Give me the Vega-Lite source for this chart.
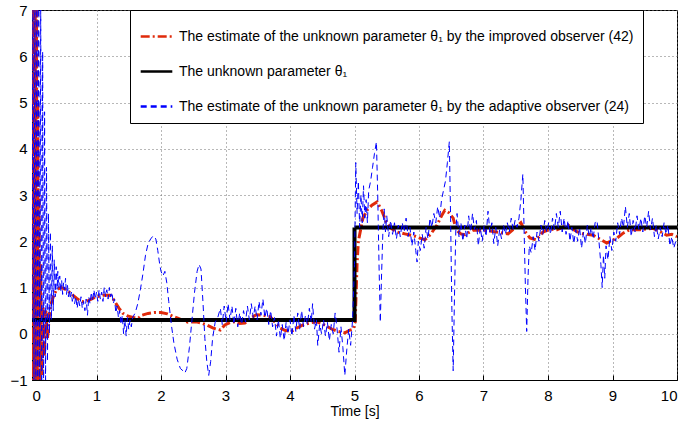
{
  "$schema": "https://vega.github.io/schema/vega-lite/v6.json",
  "width": 645,
  "height": 370,
  "autosize": {"type": "none"},
  "padding": {"left": 32, "top": 10, "right": 8, "bottom": 52},
  "background": "white",
  "config": {
    "font": "Liberation Sans",
    "view": {"stroke": "black", "strokeWidth": 1},
    "axis": {
      "domainColor": "black",
      "tickColor": "black",
      "labelColor": "black",
      "titleColor": "black",
      "labelFont": "Liberation Sans",
      "titleFont": "Liberation Sans",
      "gridColor": "#707070",
      "gridDash": [1, 3],
      "gridOpacity": 1,
      "tickSize": -5,
      "labelFontSize": 15
    }
  },
  "datasets": {
    "black": [
      {"t": 0, "v": 0.3},
      {"t": 5, "v": 2.3},
      {"t": 10, "v": 2.3}
    ],
    "red": [
      {"t": 0.000, "v": 0.3}, {"t": 0.010, "v": 7.5}, {"t": 0.020, "v": -1.5}, {"t": 0.030, "v": 7.5},
      {"t": 0.040, "v": -1.5}, {"t": 0.050, "v": 7.5}, {"t": 0.060, "v": -1.5}, {"t": 0.070, "v": 7.0},
      {"t": 0.080, "v": -1.5}, {"t": 0.090, "v": 5.0},
      {"t": 0.100, "v": -1.3}, {"t": 0.110, "v": 3.0}, {"t": 0.120, "v": -1.1}, {"t": 0.135, "v": 1.5},
      {"t": 0.150, "v": -0.9}, {"t": 0.170, "v": 0.6}, {"t": 0.190, "v": -0.5}, {"t": 0.215, "v": 0.5},
      {"t": 0.240, "v": -0.1}, {"t": 0.28, "v": 0.58}, {"t": 0.33, "v": 0.8}, {"t": 0.38, "v": 0.95},
      {"t": 0.45, "v": 1.0}, {"t": 0.54, "v": 0.95}, {"t": 0.62, "v": 0.85}, {"t": 0.69, "v": 0.77},
      {"t": 0.76, "v": 0.7}, {"t": 0.83, "v": 0.69}, {"t": 0.92, "v": 0.75}, {"t": 1.00, "v": 0.8},
      {"t": 1.10, "v": 0.83}, {"t": 1.21, "v": 0.83}, {"t": 1.26, "v": 0.75}, {"t": 1.30, "v": 0.66},
      {"t": 1.35, "v": 0.55}, {"t": 1.41, "v": 0.44}, {"t": 1.47, "v": 0.39}, {"t": 1.52, "v": 0.37},
      {"t": 1.60, "v": 0.34}, {"t": 1.65, "v": 0.34}, {"t": 1.70, "v": 0.40}, {"t": 1.80, "v": 0.44},
      {"t": 1.90, "v": 0.46}, {"t": 2.00, "v": 0.46}, {"t": 2.10, "v": 0.43}, {"t": 2.18, "v": 0.38},
      {"t": 2.26, "v": 0.34}, {"t": 2.34, "v": 0.29}, {"t": 2.42, "v": 0.25}, {"t": 2.55, "v": 0.26},
      {"t": 2.63, "v": 0.23}, {"t": 2.71, "v": 0.19}, {"t": 2.81, "v": 0.12}, {"t": 2.92, "v": 0.08},
      {"t": 2.99, "v": 0.19}, {"t": 3.07, "v": 0.24}, {"t": 3.15, "v": 0.26}, {"t": 3.22, "v": 0.22},
      {"t": 3.30, "v": 0.23}, {"t": 3.40, "v": 0.35}, {"t": 3.48, "v": 0.41}, {"t": 3.58, "v": 0.40},
      {"t": 3.69, "v": 0.37}, {"t": 3.77, "v": 0.25}, {"t": 3.84, "v": 0.13}, {"t": 3.93, "v": 0.07},
      {"t": 4.02, "v": 0.05}, {"t": 4.10, "v": 0.12}, {"t": 4.20, "v": 0.19}, {"t": 4.30, "v": 0.23},
      {"t": 4.41, "v": 0.26}, {"t": 4.52, "v": 0.2}, {"t": 4.65, "v": 0.1}, {"t": 4.75, "v": 0.05},
      {"t": 4.85, "v": 0.02}, {"t": 4.93, "v": 0.08}, {"t": 4.98, "v": 0.1}, {"t": 5.01, "v": 0.23},
      {"t": 5.04, "v": 1.52}, {"t": 5.06, "v": 2.0}, {"t": 5.13, "v": 2.5}, {"t": 5.20, "v": 2.68},
      {"t": 5.27, "v": 2.78}, {"t": 5.35, "v": 2.85}, {"t": 5.42, "v": 2.67}, {"t": 5.50, "v": 2.39},
      {"t": 5.58, "v": 2.27}, {"t": 5.66, "v": 2.2}, {"t": 5.78, "v": 2.16}, {"t": 5.94, "v": 2.11},
      {"t": 6.09, "v": 2.03}, {"t": 6.18, "v": 2.15}, {"t": 6.28, "v": 2.35}, {"t": 6.35, "v": 2.55},
      {"t": 6.40, "v": 2.67}, {"t": 6.46, "v": 2.62}, {"t": 6.53, "v": 2.5}, {"t": 6.58, "v": 2.24},
      {"t": 6.65, "v": 2.16}, {"t": 6.71, "v": 2.14}, {"t": 6.84, "v": 2.24}, {"t": 7.00, "v": 2.24},
      {"t": 7.10, "v": 2.22}, {"t": 7.20, "v": 2.2}, {"t": 7.38, "v": 2.16}, {"t": 7.51, "v": 2.31},
      {"t": 7.58, "v": 2.4}, {"t": 7.65, "v": 2.2}, {"t": 7.72, "v": 2.07}, {"t": 7.82, "v": 2.03},
      {"t": 7.92, "v": 2.2}, {"t": 8.03, "v": 2.26}, {"t": 8.14, "v": 2.25}, {"t": 8.31, "v": 2.35},
      {"t": 8.40, "v": 2.25}, {"t": 8.50, "v": 2.17}, {"t": 8.70, "v": 2.13}, {"t": 8.80, "v": 2.05},
      {"t": 8.91, "v": 1.96}, {"t": 9.07, "v": 2.07}, {"t": 9.17, "v": 2.18}, {"t": 9.27, "v": 2.25},
      {"t": 9.43, "v": 2.25}, {"t": 9.63, "v": 2.28}, {"t": 9.75, "v": 2.2}, {"t": 9.84, "v": 2.13},
      {"t": 9.92, "v": 2.15}, {"t": 10.0, "v": 2.1}
    ],
    "blue": [
      {"t": 0.000, "v": 0.3}, {"t": 0.015, "v": 8}, {"t": 0.030, "v": -1.5}, {"t": 0.045, "v": 8},
      {"t": 0.060, "v": -1.5}, {"t": 0.075, "v": 8}, {"t": 0.090, "v": -1.5}, {"t": 0.105, "v": 8},
      {"t": 0.120, "v": -1.5}, {"t": 0.135, "v": 7}, {"t": 0.150, "v": -1.5}, {"t": 0.165, "v": 6.1},
      {"t": 0.180, "v": -1.3}, {"t": 0.195, "v": 4.8},
      {"t": 0.210, "v": -1.1}, {"t": 0.225, "v": 3.6}, {"t": 0.240, "v": -0.6},
      {"t": 0.255, "v": 2.6}, {"t": 0.270, "v": 0.0}, {"t": 0.285, "v": 2.2},
      {"t": 0.300, "v": 0.3}, {"t": 0.315, "v": 1.9}, {"t": 0.330, "v": 0.5}, {"t": 0.345, "v": 1.6},
      {"t": 0.360, "v": 0.8}, {"t": 0.375, "v": 1.45},
      {"t": 0.39, "v": 0.95}, {"t": 0.40, "v": 1.35}, {"t": 0.415, "v": 1.0}, {"t": 0.43, "v": 1.25},
      {"t": 0.445, "v": 0.9}, {"t": 0.46, "v": 1.15}, {"t": 0.475, "v": 0.85}, {"t": 0.49, "v": 1.1},
      {"t": 0.505, "v": 0.95}, {"t": 0.52, "v": 1.2}, {"t": 0.535, "v": 0.85}, {"t": 0.55, "v": 1.05},
      {"t": 0.565, "v": 0.8}, {"t": 0.58, "v": 0.95}, {"t": 0.595, "v": 0.75}, {"t": 0.61, "v": 0.9},
      {"t": 0.625, "v": 0.7}, {"t": 0.64, "v": 0.85}, {"t": 0.66, "v": 0.65}, {"t": 0.68, "v": 0.8},
      {"t": 0.70, "v": 0.55}, {"t": 0.72, "v": 0.75}, {"t": 0.74, "v": 0.6}, {"t": 0.76, "v": 0.8},
      {"t": 0.78, "v": 0.55}, {"t": 0.80, "v": 0.7}, {"t": 0.82, "v": 0.5}, {"t": 0.84, "v": 0.75},
      {"t": 0.86, "v": 0.4}, {"t": 0.88, "v": 0.8}, {"t": 0.90, "v": 0.65}, {"t": 0.92, "v": 0.9},
      {"t": 0.94, "v": 0.7}, {"t": 0.96, "v": 0.95}, {"t": 0.98, "v": 0.75}, {"t": 1.00, "v": 0.9},
      {"t": 1.02, "v": 0.7}, {"t": 1.04, "v": 0.95}, {"t": 1.06, "v": 0.75}, {"t": 1.08, "v": 0.9},
      {"t": 1.10, "v": 0.7}, {"t": 1.12, "v": 1.0}, {"t": 1.14, "v": 0.8}, {"t": 1.16, "v": 0.95},
      {"t": 1.18, "v": 0.75}, {"t": 1.20, "v": 1.0}, {"t": 1.22, "v": 0.8}, {"t": 1.24, "v": 0.9},
      {"t": 1.26, "v": 0.65}, {"t": 1.28, "v": 0.75}, {"t": 1.30, "v": 0.45}, {"t": 1.32, "v": 0.6},
      {"t": 1.34, "v": 0.35}, {"t": 1.36, "v": 0.5}, {"t": 1.38, "v": 0.2}, {"t": 1.40, "v": 0.4},
      {"t": 1.42, "v": 0.0}, {"t": 1.44, "v": 0.3}, {"t": 1.46, "v": -0.05}, {"t": 1.48, "v": 0.35},
      {"t": 1.50, "v": 0.1}, {"t": 1.52, "v": 0.3}, {"t": 1.54, "v": 0.15}, {"t": 1.56, "v": 0.35},
      {"t": 1.60, "v": 0.45}, {"t": 1.64, "v": 0.65}, {"t": 1.68, "v": 0.95}, {"t": 1.72, "v": 1.3},
      {"t": 1.76, "v": 1.7}, {"t": 1.80, "v": 1.95}, {"t": 1.84, "v": 2.05}, {"t": 1.88, "v": 2.12},
      {"t": 1.92, "v": 2.05}, {"t": 1.95, "v": 1.8}, {"t": 1.98, "v": 1.5}, {"t": 2.00, "v": 1.35},
      {"t": 2.03, "v": 1.25}, {"t": 2.06, "v": 1.35}, {"t": 2.09, "v": 1.1}, {"t": 2.12, "v": 0.7},
      {"t": 2.16, "v": 0.2}, {"t": 2.20, "v": -0.2}, {"t": 2.25, "v": -0.55}, {"t": 2.30, "v": -0.75},
      {"t": 2.34, "v": -0.8}, {"t": 2.37, "v": -0.85}, {"t": 2.40, "v": -0.75}, {"t": 2.44, "v": -0.3},
      {"t": 2.48, "v": 0.3}, {"t": 2.52, "v": 0.9}, {"t": 2.56, "v": 1.35}, {"t": 2.59, "v": 1.5},
      {"t": 2.62, "v": 1.4}, {"t": 2.65, "v": 0.7}, {"t": 2.68, "v": -0.1}, {"t": 2.71, "v": -0.6},
      {"t": 2.74, "v": -0.9}, {"t": 2.77, "v": -0.6}, {"t": 2.80, "v": -0.1}, {"t": 2.84, "v": 0.25},
      {"t": 2.88, "v": 0.35},
      {"t": 2.92, "v": 0.55}, {"t": 2.95, "v": 0.2}, {"t": 2.98, "v": 0.6}, {"t": 3.01, "v": 0.25},
      {"t": 3.04, "v": 0.65}, {"t": 3.07, "v": 0.3}, {"t": 3.10, "v": 0.6}, {"t": 3.13, "v": 0.2},
      {"t": 3.16, "v": 0.55}, {"t": 3.19, "v": 0.15}, {"t": 3.22, "v": 0.45}, {"t": 3.25, "v": 0.2},
      {"t": 3.28, "v": 0.5}, {"t": 3.31, "v": 0.25}, {"t": 3.34, "v": 0.6}, {"t": 3.37, "v": 0.3},
      {"t": 3.40, "v": 0.65}, {"t": 3.43, "v": 0.35}, {"t": 3.46, "v": 0.6}, {"t": 3.49, "v": 0.3},
      {"t": 3.52, "v": 0.7}, {"t": 3.55, "v": 0.4}, {"t": 3.58, "v": 0.75}, {"t": 3.61, "v": 0.35},
      {"t": 3.64, "v": 0.55}, {"t": 3.67, "v": 0.2}, {"t": 3.70, "v": 0.5}, {"t": 3.73, "v": 0.15},
      {"t": 3.76, "v": 0.35}, {"t": 3.79, "v": -0.05}, {"t": 3.82, "v": 0.3}, {"t": 3.85, "v": -0.1},
      {"t": 3.88, "v": 0.2}, {"t": 3.91, "v": -0.15}, {"t": 3.94, "v": 0.25}, {"t": 3.97, "v": 0.0},
      {"t": 4.00, "v": 0.3}, {"t": 4.03, "v": -0.05}, {"t": 4.06, "v": 0.4}, {"t": 4.09, "v": 0.05},
      {"t": 4.12, "v": 0.45}, {"t": 4.15, "v": 0.1}, {"t": 4.18, "v": 0.5}, {"t": 4.21, "v": 0.15},
      {"t": 4.24, "v": 0.4}, {"t": 4.27, "v": 0.2}, {"t": 4.30, "v": 0.55}, {"t": 4.33, "v": 0.25},
      {"t": 4.35, "v": 0.65}, {"t": 4.38, "v": 0.1}, {"t": 4.41, "v": 0.3}, {"t": 4.43, "v": -0.25},
      {"t": 4.46, "v": 0.2}, {"t": 4.49, "v": 0.0}, {"t": 4.52, "v": 0.3}, {"t": 4.55, "v": -0.05},
      {"t": 4.58, "v": 0.25}, {"t": 4.61, "v": -0.15}, {"t": 4.64, "v": 0.2}, {"t": 4.67, "v": 0.0},
      {"t": 4.70, "v": 0.45}, {"t": 4.73, "v": 0.1}, {"t": 4.76, "v": -0.4}, {"t": 4.79, "v": 0.15},
      {"t": 4.82, "v": -0.3}, {"t": 4.85, "v": -0.9}, {"t": 4.88, "v": -0.35}, {"t": 4.91, "v": 0.1},
      {"t": 4.94, "v": -0.25}, {"t": 4.97, "v": 0.3},
      {"t": 5.00, "v": 1.5}, {"t": 5.02, "v": 3.7}, {"t": 5.04, "v": 2.6}, {"t": 5.06, "v": 3.3},
      {"t": 5.08, "v": 2.3}, {"t": 5.10, "v": 3.0}, {"t": 5.12, "v": 2.4}, {"t": 5.14, "v": 3.2},
      {"t": 5.16, "v": 2.5}, {"t": 5.18, "v": 2.9}, {"t": 5.20, "v": 2.4}, {"t": 5.22, "v": 3.1},
      {"t": 5.25, "v": 3.3}, {"t": 5.28, "v": 3.6}, {"t": 5.31, "v": 3.9}, {"t": 5.34, "v": 4.15},
      {"t": 5.36, "v": 3.0}, {"t": 5.38, "v": 1.5}, {"t": 5.40, "v": 0.25}, {"t": 5.42, "v": 1.3},
      {"t": 5.44, "v": 2.2}, {"t": 5.46, "v": 2.7}, {"t": 5.48, "v": 2.2}, {"t": 5.50, "v": 2.55},
      {"t": 5.53, "v": 2.1}, {"t": 5.56, "v": 2.45}, {"t": 5.59, "v": 2.15}, {"t": 5.62, "v": 2.4},
      {"t": 5.65, "v": 2.05}, {"t": 5.68, "v": 2.35}, {"t": 5.71, "v": 2.1}, {"t": 5.74, "v": 2.4},
      {"t": 5.77, "v": 2.2}, {"t": 5.80, "v": 2.5}, {"t": 5.83, "v": 2.1}, {"t": 5.86, "v": 2.3},
      {"t": 5.89, "v": 1.9}, {"t": 5.92, "v": 2.2}, {"t": 5.95, "v": 1.8}, {"t": 5.97, "v": 1.55},
      {"t": 5.99, "v": 2.0}, {"t": 6.02, "v": 1.8}, {"t": 6.05, "v": 2.15}, {"t": 6.08, "v": 1.85},
      {"t": 6.11, "v": 2.3}, {"t": 6.14, "v": 2.05}, {"t": 6.17, "v": 2.5}, {"t": 6.20, "v": 2.3},
      {"t": 6.23, "v": 2.6}, {"t": 6.26, "v": 2.4}, {"t": 6.29, "v": 2.75}, {"t": 6.32, "v": 2.5},
      {"t": 6.35, "v": 2.9}, {"t": 6.38, "v": 3.1}, {"t": 6.41, "v": 3.3}, {"t": 6.44, "v": 3.7},
      {"t": 6.47, "v": 4.15}, {"t": 6.49, "v": 2.5}, {"t": 6.51, "v": 0.5}, {"t": 6.53, "v": -0.8},
      {"t": 6.55, "v": 0.8}, {"t": 6.57, "v": 2.2}, {"t": 6.59, "v": 2.6}, {"t": 6.62, "v": 2.1},
      {"t": 6.65, "v": 2.4}, {"t": 6.68, "v": 2.0}, {"t": 6.71, "v": 2.35}, {"t": 6.74, "v": 2.05},
      {"t": 6.77, "v": 2.55}, {"t": 6.80, "v": 2.2}, {"t": 6.83, "v": 2.6}, {"t": 6.86, "v": 2.25},
      {"t": 6.89, "v": 2.45}, {"t": 6.92, "v": 1.9}, {"t": 6.95, "v": 2.3}, {"t": 6.98, "v": 2.0},
      {"t": 7.01, "v": 2.35}, {"t": 7.04, "v": 2.1}, {"t": 7.07, "v": 2.65}, {"t": 7.10, "v": 2.2},
      {"t": 7.13, "v": 2.4}, {"t": 7.16, "v": 1.95}, {"t": 7.19, "v": 2.3}, {"t": 7.22, "v": 1.9},
      {"t": 7.25, "v": 2.25}, {"t": 7.28, "v": 2.05}, {"t": 7.31, "v": 2.35}, {"t": 7.34, "v": 2.15},
      {"t": 7.37, "v": 2.4}, {"t": 7.40, "v": 2.2}, {"t": 7.43, "v": 2.5}, {"t": 7.46, "v": 2.25},
      {"t": 7.49, "v": 2.45}, {"t": 7.52, "v": 2.3}, {"t": 7.55, "v": 2.5}, {"t": 7.58, "v": 2.9},
      {"t": 7.61, "v": 3.45}, {"t": 7.63, "v": 2.2}, {"t": 7.65, "v": 1.0}, {"t": 7.67, "v": 0.05},
      {"t": 7.69, "v": 1.2}, {"t": 7.71, "v": 1.9}, {"t": 7.74, "v": 1.75}, {"t": 7.77, "v": 2.1},
      {"t": 7.80, "v": 1.8}, {"t": 7.83, "v": 2.2}, {"t": 7.86, "v": 2.0}, {"t": 7.89, "v": 2.35},
      {"t": 7.92, "v": 2.15}, {"t": 7.95, "v": 2.45}, {"t": 7.98, "v": 2.2}, {"t": 8.01, "v": 2.4},
      {"t": 8.04, "v": 2.15}, {"t": 8.07, "v": 2.5}, {"t": 8.10, "v": 2.25}, {"t": 8.13, "v": 2.6},
      {"t": 8.16, "v": 2.3}, {"t": 8.19, "v": 2.65}, {"t": 8.22, "v": 2.2}, {"t": 8.25, "v": 2.5},
      {"t": 8.28, "v": 2.15}, {"t": 8.31, "v": 2.45}, {"t": 8.34, "v": 2.0}, {"t": 8.37, "v": 2.3},
      {"t": 8.40, "v": 1.95}, {"t": 8.43, "v": 2.25}, {"t": 8.46, "v": 2.0}, {"t": 8.49, "v": 2.3},
      {"t": 8.52, "v": 1.85}, {"t": 8.55, "v": 2.2}, {"t": 8.58, "v": 1.95}, {"t": 8.61, "v": 2.35},
      {"t": 8.64, "v": 2.1}, {"t": 8.67, "v": 2.3}, {"t": 8.70, "v": 2.05}, {"t": 8.73, "v": 2.4},
      {"t": 8.76, "v": 2.45}, {"t": 8.79, "v": 2.0}, {"t": 8.82, "v": 1.5}, {"t": 8.84, "v": 1.0},
      {"t": 8.86, "v": 1.7}, {"t": 8.88, "v": 1.2}, {"t": 8.90, "v": 1.9}, {"t": 8.93, "v": 1.6},
      {"t": 8.96, "v": 2.1}, {"t": 8.99, "v": 1.8}, {"t": 9.02, "v": 2.2}, {"t": 9.05, "v": 2.0},
      {"t": 9.08, "v": 2.4}, {"t": 9.11, "v": 2.15}, {"t": 9.14, "v": 2.5}, {"t": 9.17, "v": 2.3},
      {"t": 9.20, "v": 2.75}, {"t": 9.23, "v": 2.3}, {"t": 9.26, "v": 2.6}, {"t": 9.29, "v": 2.1},
      {"t": 9.32, "v": 2.45}, {"t": 9.35, "v": 2.2}, {"t": 9.38, "v": 2.55}, {"t": 9.41, "v": 2.25},
      {"t": 9.44, "v": 2.5}, {"t": 9.47, "v": 2.2}, {"t": 9.50, "v": 2.55}, {"t": 9.53, "v": 2.3},
      {"t": 9.56, "v": 2.65}, {"t": 9.59, "v": 2.25}, {"t": 9.62, "v": 2.5}, {"t": 9.65, "v": 2.1},
      {"t": 9.68, "v": 2.35}, {"t": 9.71, "v": 2.05}, {"t": 9.74, "v": 2.3}, {"t": 9.77, "v": 2.1},
      {"t": 9.80, "v": 2.4}, {"t": 9.83, "v": 2.15}, {"t": 9.86, "v": 2.35}, {"t": 9.89, "v": 1.9},
      {"t": 9.92, "v": 2.1}, {"t": 9.95, "v": 1.85}, {"t": 9.98, "v": 2.0}, {"t": 10.0, "v": 1.95}
    ]
  },
  "encoding": {
    "x": {"field": "t", "type": "quantitative", "scale": {"domain": [0, 10], "nice": false},
          "axis": {"orient": "bottom", "values": [0,1,2,3,4,5,6,7,8,9,10], "title": "Time [s]", "titleFontSize": 14, "titleFontWeight": "normal", "titlePadding": 1, "labelPadding": 13, "grid": true}},
    "y": {"field": "v", "type": "quantitative", "scale": {"domain": [-1, 7], "nice": false},
          "axis": {"orient": "left", "values": [-1,0,1,2,3,4,5,6,7], "title": null, "labelPadding": 10, "grid": true}}
  },
  "layer": [
    {
      "data": {"name": "red"},
      "mark": {"type": "line", "clip": true, "strokeWidth": 3},
      "encoding": {
        "color": {"datum": "The estimate of the unknown parameter θ₁ by the improved observer (42)", "type": "nominal",
                  "scale": {"domain": ["The estimate of the unknown parameter θ₁ by the improved observer (42)", "The unknown parameter θ₁", "The estimate of the unknown parameter θ₁ by the adaptive observer (24)"], "range": ["#e02a0a", "#000000", "#0000ff"]},
                  "legend": {"orient": "none", "legendX": 98, "legendY": 0, "title": null, "symbolType": "stroke", "symbolSize": 1000, "symbolStrokeWidth": 2.5, "labelFontSize": 14, "labelFont": "Liberation Sans", "labelLimit": 700, "labelOffset": 5, "padding": 9, "rowPadding": 10, "fillColor": "white", "strokeColor": "black", "labelColor": "black"}},
        "strokeDash": {"datum": "The estimate of the unknown parameter θ₁ by the improved observer (42)", "type": "nominal",
                  "scale": {"domain": ["The estimate of the unknown parameter θ₁ by the improved observer (42)", "The unknown parameter θ₁", "The estimate of the unknown parameter θ₁ by the adaptive observer (24)"], "range": [[9, 3, 2, 3], [1, 0], [6, 4]]}}
      }
    },
    {
      "data": {"name": "black"},
      "mark": {"type": "line", "clip": true, "interpolate": "step-after", "strokeWidth": 4},
      "encoding": {
        "color": {"datum": "The unknown parameter θ₁", "type": "nominal"},
        "strokeDash": {"datum": "The unknown parameter θ₁", "type": "nominal"}
      }
    },
    {
      "data": {"name": "blue"},
      "mark": {"type": "line", "clip": true, "strokeWidth": 1},
      "encoding": {
        "color": {"datum": "The estimate of the unknown parameter θ₁ by the adaptive observer (24)", "type": "nominal"},
        "strokeDash": {"datum": "The estimate of the unknown parameter θ₁ by the adaptive observer (24)", "type": "nominal"}
      }
    }
  ]
}
